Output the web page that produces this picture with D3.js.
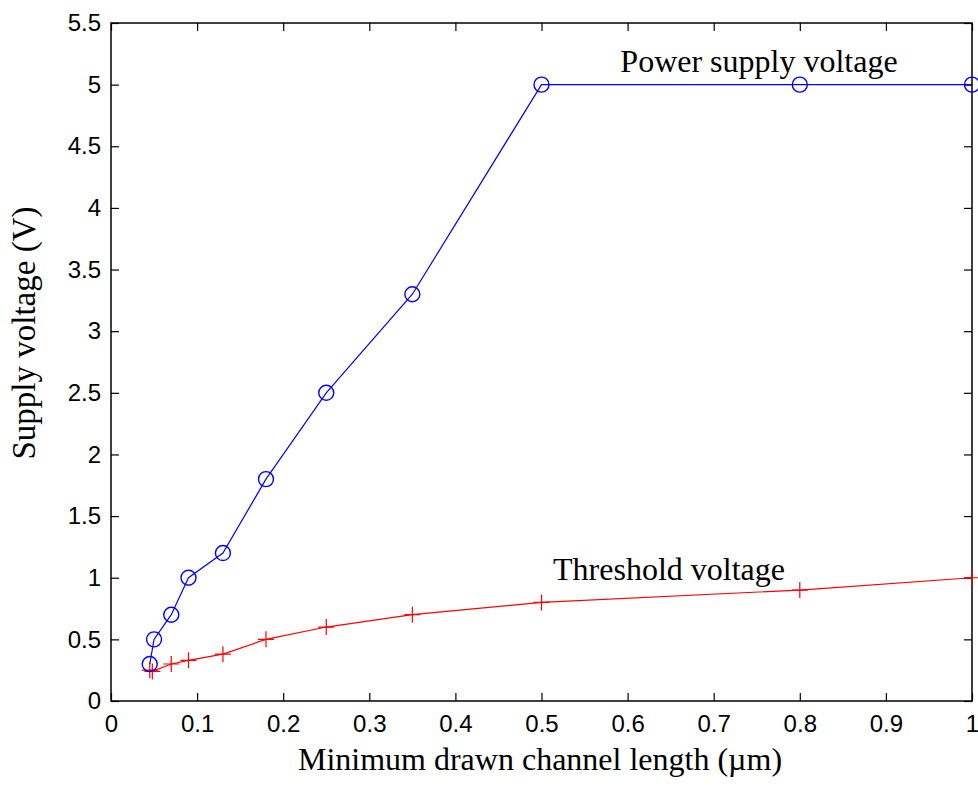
<!DOCTYPE html>
<html>
<head>
<meta charset="utf-8">
<script src="https://cdn.jsdelivr.net/npm/d3@7"></script>
<style>
  body { margin: 0; background: #fff; }
  svg { display: block; }
  .tick text { font-family: "Liberation Sans", Arial, sans-serif; font-size: 24px; fill: #000; }
  .lbl { font-family: "Liberation Serif", "Times New Roman", serif; font-size: 32px; fill: #000; }
</style>
</head>
<body>
<div id="chart"></div>
<script>
// channel length (um)
const supplyLength = [0.045, 0.05, 0.07, 0.09, 0.13, 0.18, 0.25, 0.35, 0.5, 0.8, 1.0];
const supplyVolts  = [0.3, 0.5, 0.7, 1.0, 1.2, 1.8, 2.5, 3.3, 5.0, 5.0, 5.0];
const threshLength = [0.045, 0.048, 0.07, 0.09, 0.13, 0.18, 0.25, 0.35, 0.5, 0.8, 1.0];
const threshVolts  = [0.25, 0.24, 0.3, 0.33, 0.38, 0.5, 0.6, 0.7, 0.8, 0.9, 1.0];
const xTicks = [0, 0.1, 0.2, 0.3, 0.4, 0.5, 0.6, 0.7, 0.8, 0.9, 1];
const yTicks = [0, 0.5, 1, 1.5, 2, 2.5, 3, 3.5, 4, 4.5, 5, 5.5];

const W = 978, H = 787;
const m = { left: 111, right: 6, top: 23, bottom: 86 };

const svg = d3.select('#chart').append('svg').attr('width', W).attr('height', H);

const x = d3.scaleLinear().domain([0, 1]).range([m.left, W - m.right]);
const y = d3.scaleLinear().domain([0, 5.5]).range([H - m.bottom, m.top]);

const fmt = d => String(d);

// axes, ticks pointing inward
svg.append('g').attr('transform', `translate(0,${y(0)})`)
  .call(d3.axisBottom(x).tickValues(xTicks).tickSize(-8).tickPadding(14).tickFormat(fmt))
  .call(g => g.select('.domain').remove());
svg.append('g').attr('transform', `translate(${x(0)},0)`)
  .call(d3.axisLeft(y).tickValues(yTicks).tickSize(-8).tickPadding(10).tickFormat(fmt))
  .call(g => g.select('.domain').remove());
svg.append('g').attr('transform', `translate(0,${y(5.5)})`)
  .call(d3.axisTop(x).tickValues(xTicks).tickSize(-8).tickFormat(''))
  .call(g => g.select('.domain').remove());
svg.append('g').attr('transform', `translate(${x(1)},0)`)
  .call(d3.axisRight(y).tickValues(yTicks).tickSize(-8).tickFormat(''))
  .call(g => g.select('.domain').remove());
svg.selectAll('.tick line').attr('stroke', '#000').attr('stroke-width', 1.2);

svg.append('rect')
  .attr('x', x(0)).attr('y', y(5.5))
  .attr('width', x(1) - x(0)).attr('height', y(0) - y(5.5))
  .attr('fill', 'none').attr('stroke', '#000').attr('stroke-width', 1.5);

const line = d3.line().x(d => x(d[0])).y(d => y(d[1]));

const supply = supplyLength.map((v, i) => [v, supplyVolts[i]]);
const thresh = threshLength.map((v, i) => [v, threshVolts[i]]);

svg.append('path').datum(thresh).attr('d', line)
  .attr('fill', 'none').attr('stroke', '#ff0000').attr('stroke-width', 1.2);
svg.append('g').selectAll('path').data(thresh).join('path')
  .attr('d', d => `M${x(d[0]) - 8},${y(d[1])}h16M${x(d[0])},${y(d[1]) - 8}v16`)
  .attr('stroke', '#ff0000').attr('stroke-width', 1.2).attr('fill', 'none');

svg.append('path').datum(supply).attr('d', line)
  .attr('fill', 'none').attr('stroke', '#0000ff').attr('stroke-width', 1.2);
svg.append('g').selectAll('circle').data(supply).join('circle')
  .attr('cx', d => x(d[0])).attr('cy', d => y(d[1])).attr('r', 7.5)
  .attr('fill', 'none').attr('stroke', '#0000ff').attr('stroke-width', 1.4);

// labels
svg.append('text').attr('class', 'lbl').attr('x', 759).attr('y', 72)
  .attr('text-anchor', 'middle').text('Power supply voltage');
svg.append('text').attr('class', 'lbl').attr('x', 669).attr('y', 580)
  .attr('text-anchor', 'middle').text('Threshold voltage');
svg.append('text').attr('class', 'lbl').attr('x', 540).attr('y', 770)
  .attr('text-anchor', 'middle').text('Minimum drawn channel length (µm)');
svg.append('text').attr('class', 'lbl').style('font-size', '33px')
  .attr('transform', 'translate(35,333) rotate(-90)')
  .attr('text-anchor', 'middle').text('Supply voltage (V)');
</script>
</body>
</html>
